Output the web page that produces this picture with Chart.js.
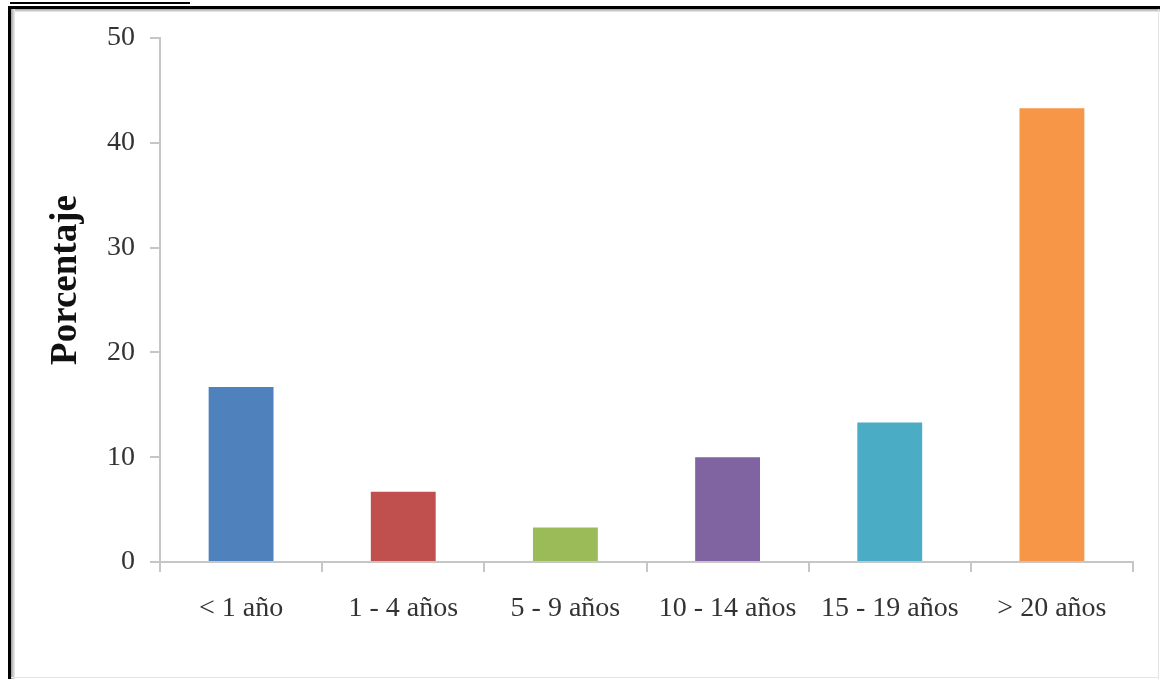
<!DOCTYPE html>
<html>
<head>
<meta charset="utf-8">
<script src="https://cdn.jsdelivr.net/npm/chart.js@4/dist/chart.umd.min.js"></script>
<style>
  html, body { margin: 0; padding: 0; background: #fff; }
  body { width: 1160px; height: 679px; position: relative; overflow: hidden; }
  #c { position: absolute; left: 0; top: 0; }
  .ln { position: absolute; pointer-events: none; }
</style>
</head>
<body>
<canvas id="c" width="1160" height="679"></canvas>
<div class="ln" style="left:10px;top:2px;width:180px;height:2px;background:#000;"></div>
<div class="ln" style="left:8px;top:6px;width:1152px;height:3px;background:#000;"></div>
<div class="ln" style="left:11px;top:9px;width:1149px;height:3px;background:linear-gradient(#a0a0a0,#f0f0f0);"></div>
<div class="ln" style="left:8px;top:6px;width:3px;height:673px;background:#000;"></div>
<div class="ln" style="left:11px;top:9px;width:4px;height:670px;background:linear-gradient(90deg,#a0a0a0,#f0f0f0);"></div>
<div class="ln" style="left:1158px;top:9px;width:1px;height:670px;background:#e4e4e4;"></div>
<div class="ln" style="left:11px;top:677px;width:1148px;height:1px;background:#e4e4e4;"></div>
<script>
const categories = ['< 1 año', '1 - 4 años', '5 - 9 años', '10 - 14 años', '15 - 19 años', '> 20 años'];
const porcentaje = [16.7, 6.7, 3.3, 10.0, 13.3, 43.3];
const barColors = ['#4F81BD', '#C0504D', '#9BBB59', '#8064A2', '#4BACC6', '#F79646'];
const yTicks = [0, 10, 20, 30, 40, 50];
const yTitle = 'Porcentaje';

const axisColor = '#c6c6c6';
const serif = "'Liberation Serif', 'Times New Roman', serif";

const yTitlePlugin = {
  id: 'yTitle',
  afterDraw(chart) {
    const ctx = chart.ctx;
    const area = chart.chartArea;
    ctx.save();
    ctx.translate(66, (area.top + area.bottom) / 2 - 20);
    ctx.rotate(-Math.PI / 2);
    ctx.font = 'bold 37px ' + serif;
    ctx.fillStyle = '#111';
    ctx.textAlign = 'center';
    ctx.textBaseline = 'middle';
    ctx.fillText(yTitle, 0, 0);
    ctx.restore();
  }
};

new Chart(document.getElementById('c'), {
  type: 'bar',
  data: {
    labels: categories,
    datasets: [{
      data: porcentaje,
      backgroundColor: barColors,
      borderWidth: 0,
      barPercentage: 0.4,
      categoryPercentage: 1.0
    }]
  },
  options: {
    responsive: false,
    devicePixelRatio: 1,
    animation: false,
    layout: { padding: { left: 0, right: 27, top: 38, bottom: 0 } },
    plugins: { legend: { display: false }, tooltip: { enabled: false } },
    scales: {
      x: {
        afterFit(scale) { scale.height = 117; },
        grid: { drawOnChartArea: false, tickLength: 10, color: axisColor, lineWidth: 2, offset: true },
        border: { color: axisColor, width: 2 },
        ticks: { color: '#333', font: { family: serif, size: 28 }, padding: 20, maxRotation: 0, autoSkip: false }
      },
      y: {
        min: yTicks[0],
        max: yTicks[yTicks.length - 1],
        afterFit(scale) { scale.width = 160; },
        afterBuildTicks(scale) { scale.ticks = yTicks.map(v => ({ value: v })); },
        grid: { drawOnChartArea: false, tickLength: 10, color: axisColor, lineWidth: 2 },
        border: { color: axisColor, width: 2 },
        ticks: { color: '#333', font: { family: serif, size: 28 }, padding: 15 }
      }
    }
  },
  plugins: [yTitlePlugin]
});
</script>
</body>
</html>
